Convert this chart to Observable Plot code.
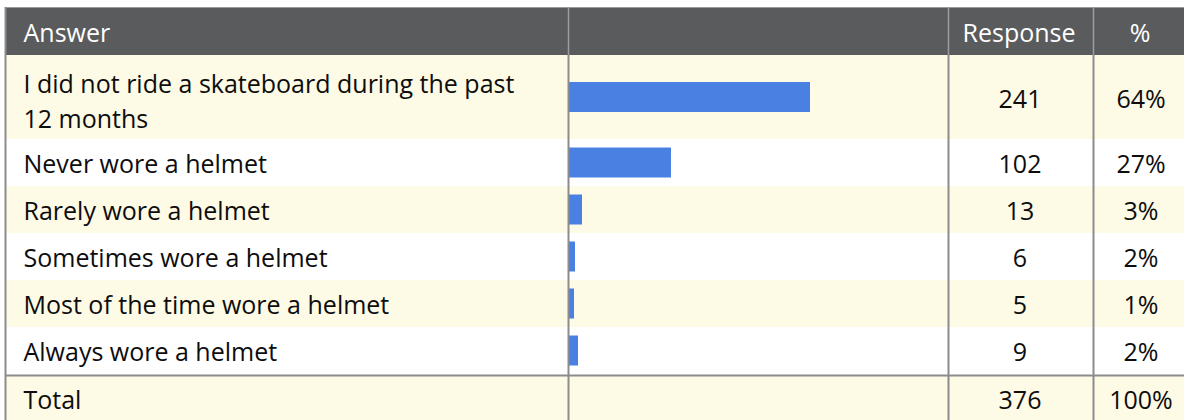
<!DOCTYPE html>
<html>
<head>
<meta charset="utf-8">
<script src="https://cdn.jsdelivr.net/npm/d3@7"></script>
<script src="https://cdn.jsdelivr.net/npm/@observablehq/plot@0.6"></script>
<style>
  html, body { margin: 0; padding: 0; background: #fff; }
  #chart svg { display: block; }
</style>
</head>
<body>
<div id="chart"></div>
<script>
// ---- data ----
const headers = ["Answer", "", "Response", "%"];
const answers = [
  "I did not ride a skateboard during the past\n12 months",
  "Never wore a helmet",
  "Rarely wore a helmet",
  "Sometimes wore a helmet",
  "Most of the time wore a helmet",
  "Always wore a helmet"
];
const responses = [241, 102, 13, 6, 5, 9];
const percents = ["64%", "27%", "3%", "2%", "1%", "2%"];
const totalLabel = "Total";
const totalResponse = 376;
const totalPercent = "100%";

// ---- layout ----
const W = 1184, H = 420;
const FONT = "'Open Sans', 'DejaVu Sans', sans-serif";
const FS = 25;
const DY = 2;
const ORIGIN = 569;               // pixel where a response of 0 sits
const X = p => p - ORIGIN;        // pixel -> x scale units (1 response = 1 px)
const colEdges = [5, 568, 948, 1093, 1190];
const headerTop = 7, headerBottom = 55;
const extraLineH = 37, padH = 47, textLineH = 35;

let rowTop = headerBottom;
const rows = answers.map((a, i) => {
  const lines = a.split("\n").length;
  const h = padH + (lines - 1) * extraLineH;
  const r = {answer: a, lines, response: responses[i], pct: percents[i], y1: rowTop, y2: rowTop + h, mid: rowTop + h / 2, odd: i % 2 === 0};
  rowTop += h;
  return r;
});
rowTop += 1;
const totalRow = {answer: totalLabel, lines: 1, response: totalResponse, pct: totalPercent, y1: rowTop, y2: rowTop + padH, mid: rowTop + padH / 2, odd: true};
const allRows = [...rows, totalRow];

const headerCells = headers.map((t, i) => ({text: t, x1: colEdges[i], x2: colEdges[i + 1]}));

const CREAM = "#fdfae6", HEAD = "#5a5b5d", BLUE = "#4a80e2", GRID = "#8c8c8c", INK = "#0d0d0d";

const chart = Plot.plot({
  width: W,
  height: H,
  margin: 0,
  style: {fontFamily: FONT, background: "#fff"},
  x: {domain: [X(0), X(W)], range: [0, W], axis: null},
  y: {domain: [0, H], range: [0, H], axis: null},
  marks: [
    // row backgrounds
    Plot.rect(allRows, {x1: () => X(colEdges[0]), x2: () => X(W), y1: "y1", y2: "y2", fill: d => d.odd ? CREAM : "#ffffff"}),
    Plot.rect([0], {x1: () => X(colEdges[0]), x2: () => X(W), y1: () => rows[rows.length - 1].y2, y2: () => totalRow.y1, fill: "#ffffff"}),
    // header
    Plot.rect([0], {x1: () => X(colEdges[0]), x2: () => X(W), y1: () => headerTop, y2: () => headerBottom, fill: HEAD}),
    Plot.ruleY([headerTop], {x1: X(colEdges[0]), x2: X(W), stroke: "#9a9a9a", strokeWidth: 1}),
    // bars
    Plot.rect(rows, {x1: () => 0, x2: "response", y1: d => d.mid - 15, y2: d => d.mid + 15, fill: BLUE}),
    // column dividers in header
    Plot.ruleX(colEdges.slice(1, 4).map(X), {y1: headerTop, y2: headerBottom, stroke: "#9d9d9d", strokeWidth: 1.5}),
    // column dividers in body
    Plot.ruleX(colEdges.slice(0, 4).map(X), {y1: headerBottom, y2: H, stroke: GRID, strokeWidth: 2}),
    Plot.ruleX([X(colEdges[0])], {y1: headerTop, y2: headerBottom, stroke: GRID, strokeWidth: 2}),
    // line above total
    Plot.ruleY([totalRow.y1], {x1: X(colEdges[0]), x2: X(W), stroke: GRID, strokeWidth: 2}),
    // header text
    Plot.text(headerCells.filter(d => d.text === "Answer"), {x: d => X(d.x1 + 18), y: () => (headerTop + headerBottom) / 2, dy: DY, text: "text", textAnchor: "start", fill: "#ffffff", fontSize: FS, fontFamily: FONT}),
    Plot.text(headerCells.filter(d => d.text !== "Answer" && d.text !== ""), {x: d => X((d.x1 + d.x2) / 2 - 2), y: () => (headerTop + headerBottom) / 2, dy: DY, text: "text", textAnchor: "middle", fill: "#ffffff", fontSize: FS, fontFamily: FONT}),
    // answer labels (single line)
    Plot.text(allRows.filter(d => d.lines === 1), {x: () => X(23), y: "mid", dy: DY, text: "answer", textAnchor: "start", fill: INK, fontSize: FS, fontFamily: FONT}),
    // answer labels (two lines)
    Plot.text(allRows.filter(d => d.lines > 1), {x: () => X(23), y: "mid", dy: DY, text: "answer", textAnchor: "start", lineHeight: textLineH / FS, fill: INK, fontSize: FS, fontFamily: FONT}),
    // response counts
    Plot.text(allRows, {x: () => X((colEdges[2] + colEdges[3]) / 2 - 1), y: "mid", dy: DY, text: d => String(d.response), textAnchor: "middle", fill: INK, fontSize: FS, fontFamily: FONT}),
    // percents
    Plot.text(allRows, {x: () => X((colEdges[3] + colEdges[4]) / 2 - 1), y: "mid", dy: DY, text: "pct", textAnchor: "middle", fill: INK, fontSize: FS, fontFamily: FONT})
  ]
});
document.getElementById("chart").appendChild(chart);
</script>
</body>
</html>
